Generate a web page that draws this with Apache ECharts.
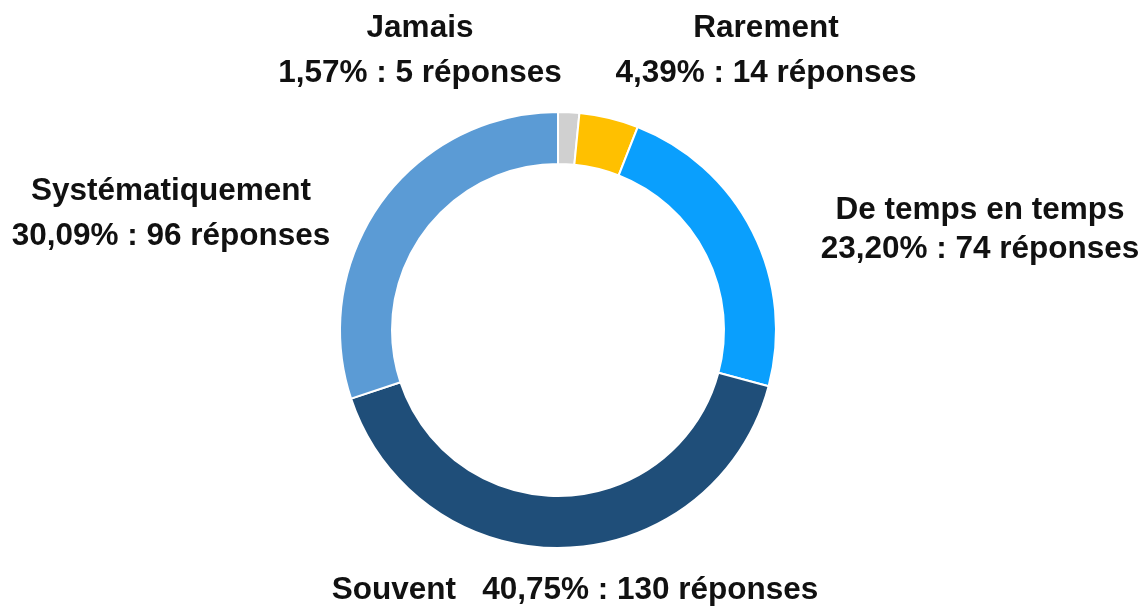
<!DOCTYPE html>
<html>
<head>
<meta charset="utf-8">
<script src="https://cdn.jsdelivr.net/npm/echarts@6/dist/echarts.min.js"></script>
<style>
  html, body { margin: 0; padding: 0; background: #fff; }
  #chart { width: 1145px; height: 607px; }
</style>
</head>
<body>
<div id="chart"></div>
<script>
  // données du sondage
  const categories = ['Jamais', 'Rarement', 'De temps en temps', 'Souvent', 'Systématiquement'];
  const responses = [5, 14, 74, 130, 96];
  const colors = ['#d0d0d0', '#ffc000', '#0a9ffd', '#1f4e79', '#5b9bd5'];

  // placement des étiquettes (centre du texte) et interligne
  const labelPos = [[420, 51], [766, 51], [980, 230], [575, 590], [171, 214]];
  const labelLineHeight = [45, 45, 39, 45, 45];

  const total = responses.reduce((a, b) => a + b, 0);
  const pct = v => (v / total * 100).toFixed(2).replace('.', ',');

  const chart = echarts.init(document.getElementById('chart'));
  chart.setOption({
    animation: false,
    series: [
      {
        type: 'pie',
        center: [558, 330],
        radius: [166, 218],
        startAngle: 90,
        clockwise: true,
        avoidLabelOverlap: false,
        itemStyle: { borderColor: '#fff', borderWidth: 2 },
        label: {
          show: true,
          position: 'outside',
          fontFamily: 'Liberation Sans, Arial, sans-serif',
          fontWeight: 'bold',
          fontSize: 31.5,
          lineHeight: 45,
          color: '#111',
          align: 'center',
          formatter: p => {
            const txt = pct(p.value) + '% : ' + p.value + ' réponses';
            return p.dataIndex === 3 ? p.name + '   ' + txt : p.name + '\n' + txt;
          }
        },
        labelLine: { show: false },
        labelLayout: p => ({
          x: labelPos[p.dataIndex][0],
          y: labelPos[p.dataIndex][1],
          align: 'center',
          verticalAlign: 'middle'
        }),
        data: categories.map((c, i) => ({
          name: c,
          value: responses[i],
          itemStyle: { color: colors[i] },
          label: { lineHeight: labelLineHeight[i] }
        }))
      }
    ]
  });
</script>
</body>
</html>
